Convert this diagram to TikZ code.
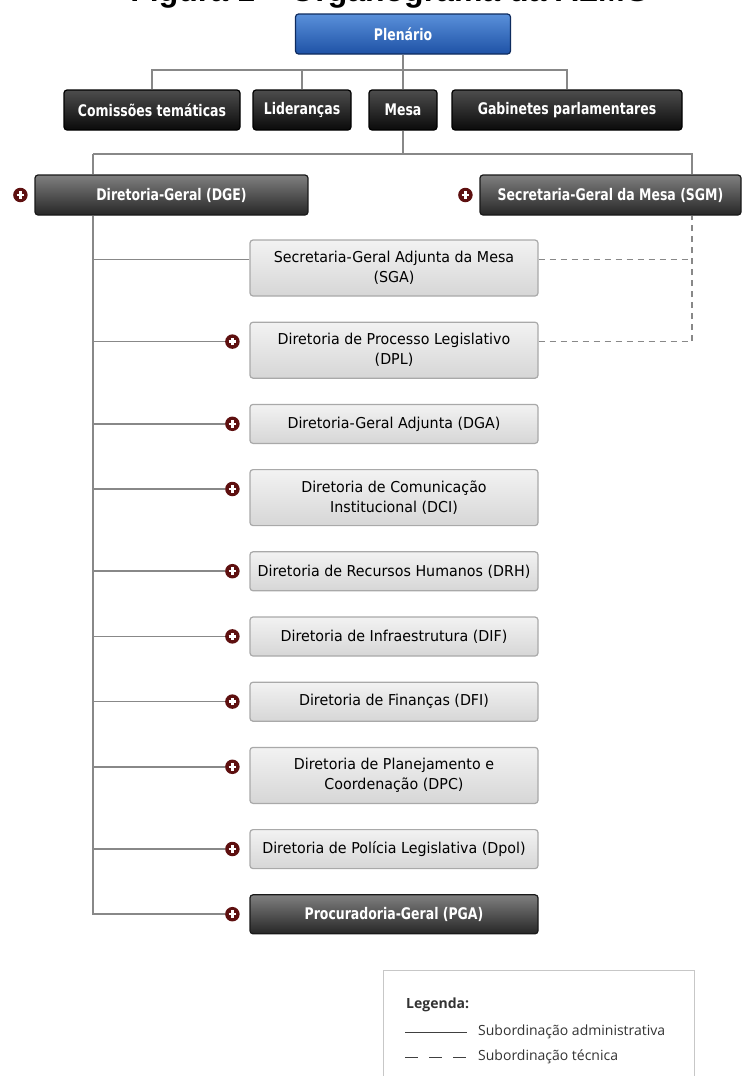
\documentclass[tikz,border=0pt]{standalone}
\usepackage{fontspec}
\setmainfont{DejaVu Sans}
\newfontfamily\headfont{DejaVu Sans}[FakeStretch=0.78]
\newfontfamily\unitfont{DejaVu Sans}[FakeStretch=0.95]
\newfontfamily\keyfont{Open Sans}
\newfontfamily\titlefont{Liberation Sans}
\usetikzlibrary{positioning}

\definecolor{plenTop}{HTML}{5A90DA}
\definecolor{plenBot}{HTML}{1E52A6}
\definecolor{plenLine}{HTML}{0E2B5E}
\definecolor{plusRed}{HTML}{5E1010}
\definecolor{linkGray}{HTML}{888888}
\definecolor{boxGray}{HTML}{A9A9A9}

\tikzset{
    node distance=25pt, % Vertical gap between the units
    box/.style={ % Common look of every box
        rounded corners=3pt,
        line width=1.2pt,
        align=center,
        inner sep=0pt
    },
    topbox/.style={ % Plenario
        box, draw=plenLine, top color=plenTop, bottom color=plenBot,
        text=white, font=\headfont\bfseries\fontsize{16}{19}\selectfont
    },
    blackbox/.style={ % Second row
        box, draw=black, top color=black!70, bottom color=black!96,
        text=white, font=\headfont\bfseries\fontsize{16}{19}\selectfont,
        minimum height=40pt
    },
    darkbox/.style={ % DGE, SGM and PGA
        box, draw=black!90, top color=black!50, bottom color=black!85,
        text=white, font=\headfont\bfseries\fontsize{16}{19}\selectfont,
        minimum height=40pt
    },
    unit/.style={ % Light grey units
        box, draw=boxGray, top color=black!5, bottom color=black!16,
        text=black, font=\unitfont\fontsize{15}{20}\selectfont,
        minimum width=288pt, minimum height=39pt
    },
    unittwo/.style={unit, minimum height=56pt}, % Units with two lines
    plus/.style={ % Expand icon
        circle, fill=plusRed, minimum size=14.5pt, inner sep=0pt,
        path picture={
            \draw[white, line width=2.4pt]
                (path picture bounding box.center) +(-3.8pt,0pt) -- +(3.8pt,0pt)
                (path picture bounding box.center) +(0pt,-3.8pt) -- +(0pt,3.8pt);
        }
    },
    link/.style={draw=linkGray, line width=1.5pt}, % Administrative line
    techlink/.style={link, dash pattern=on 6pt off 5pt}, % Technical line
    keytext/.style={text=black!80, font=\keyfont\fontsize{14}{16}\selectfont, inner sep=0pt}
}

\begin{document}
\begin{tikzpicture}[x=1pt, y=-1pt]
    \useasboundingbox (0,0) rectangle (742,1076);
    \clip (0,0) rectangle (742,1076);

    % caption, cut off at the top edge
    \node[font=\titlefont\bfseries\fontsize{32}{32}\selectfont, anchor=base, inner sep=0pt] (title) at (390,1.5) {Figura 1 – Organograma da ALMG};

    % top of the chart
    \node[topbox, minimum width=215pt, minimum height=40pt] (plenario) at (403,34) {Plenário};
    \node[blackbox, minimum width=176pt] (comissoes) at (152,110) {Comissões temáticas};
    \node[blackbox, minimum width=98pt] (liderancas) at (302,110) {Lideranças};
    \node[blackbox, minimum width=68pt] (mesa) at (403,110) {Mesa};
    \node[blackbox, minimum width=230pt] (gabinetes) at (567,110) {Gabinetes parlamentares};

    \node[darkbox, minimum width=273pt] (dge) at (171.5,195) {Diretoria-Geral (DGE)};
    \node[darkbox, minimum width=261pt] (sgm) at (610.5,195) {Secretaria-Geral da Mesa (SGM)};
    \node[plus] (dge-plus) at ([shift={(-14,0)}]dge.west) {};
    \node[plus] (sgm-plus) at ([shift={(-14,0)}]sgm.west) {};

    % units under DGE
    \node[unittwo] (sga) at (394,268) {Secretaria-Geral Adjunta da Mesa\\(SGA)};
    \node[unittwo, below=of sga] (dpl) {Diretoria de Processo Legislativo\\(DPL)};
    \node[unit, below=of dpl] (dga) {Diretoria-Geral Adjunta (DGA)};
    \node[unittwo, below=of dga] (dci) {Diretoria de Comunicação\\Institucional (DCI)};
    \node[unit, below=of dci] (drh) {Diretoria de Recursos Humanos (DRH)};
    \node[unit, below=of drh] (dif) {Diretoria de Infraestrutura (DIF)};
    \node[unit, below=of dif] (dfi) {Diretoria de Finanças (DFI)};
    \node[unittwo, below=of dfi] (dpc) {Diretoria de Planejamento e\\Coordenação (DPC)};
    \node[unit, below=of dpc] (dpol) {Diretoria de Polícia Legislativa (Dpol)};
    \node[darkbox, minimum width=288pt, minimum height=39pt, below=of dpol] (pga) {Procuradoria-Geral (PGA)};

    \coordinate (jl) at (93,154);
    \coordinate (jr) at (692,154);
    \coordinate (hub) at (403,70);
    \coordinate (sga-in) at ([shift={(0,20)}]sga.north west);
    \coordinate (sga-out) at ([shift={(0,20)}]sga.north east);
    \coordinate (dpl-out) at ([shift={(0,20)}]dpl.north east);

    % connectors
    \draw[link] (plenario) -- (mesa);
    \draw[link] (comissoes.north) |- (hub) -| (gabinetes.north);
    \draw[link] (liderancas.north) -- (liderancas.north |- hub);
    \draw[link] (mesa.south) -- (mesa.south |- jl);
    \draw[link] (jl) -- (jr) -- (jr |- sgm.north);
    \draw[link] (jl) -- (jl |- dge.north);
    \draw[link] (sga-in) -- (sga-in -| jl);
    \foreach \u in {dpl,dga,dci,drh,dif,dfi,dpc,dpol,pga} {
        \node[plus] (\u-plus) at ([shift={(-17,20)}]\u.north west) {};
    }
    \foreach \u in {dpl,dga,dci,drh,dif,dfi,dpc,dpol} {
        \draw[link] (\u-plus) -- (\u-plus -| jl);
    }
    \draw[link] (jl |- dge.south) |- (pga-plus);
    \draw[techlink] (sga-out) -- (sga-out -| jr);
    \draw[techlink] (dpl-out) -- (dpl-out -| jr) -- (jr |- sgm.south);

    % legend
    \draw[draw=black!22, line width=1pt, fill=white] (383,970) rectangle (694,1100);
    \node[keytext, font=\keyfont\bfseries\fontsize{14}{16}\selectfont, anchor=base west] (keyhead) at (406,1008) {Legenda:};
    \coordinate (k1a) at (405,1032);
    \coordinate (k1b) at (467,1032);
    \coordinate (k2a) at (405,1057);
    \coordinate (k2b) at (467,1057);
    \draw[draw=black!75, line width=1pt] (k1a) -- (k1b);
    \draw[draw=black!75, line width=1pt, dash pattern=on 13pt off 11pt] (k2a) -- (k2b);
    \node[keytext, anchor=west] (keyadmin) at (478,1032) {Subordinação administrativa};
    \node[keytext, anchor=west] (keytech) at (478,1057) {Subordinação técnica};
\end{tikzpicture}
\end{document}
